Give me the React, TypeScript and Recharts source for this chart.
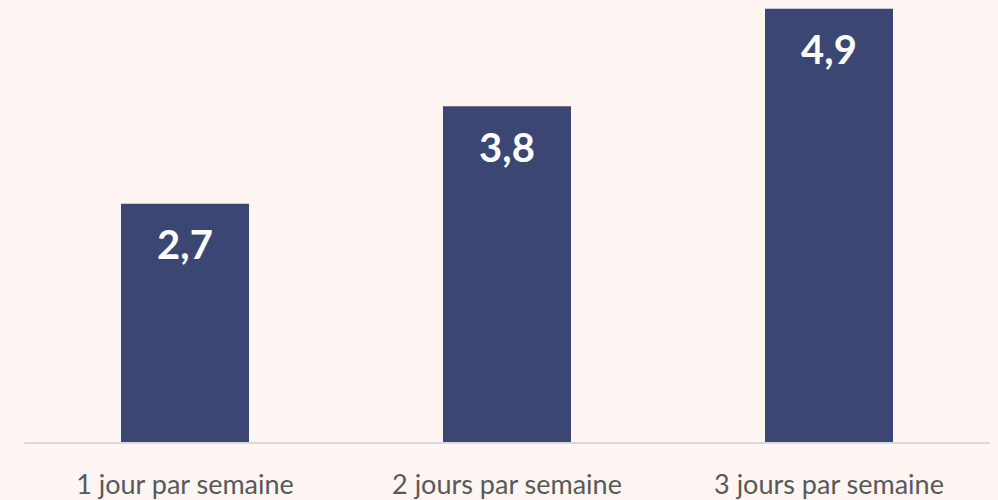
import { Bar, BarChart, LabelList, XAxis, YAxis } from "recharts";

const categories = ["1 jour par semaine", "2 jours par semaine", "3 jours par semaine"];
const values = [2.7, 3.8, 4.9];

const data = categories.map((name, i) => ({ name, value: values[i] }));

const renderTick = (props: any) => {
  const { x, y, payload } = props;
  return (
    <text
      x={x}
      y={y + 36}
      textAnchor="middle"
      dominantBaseline="middle"
      fill="#595959"
      fontSize={27}
      fontFamily="Lato, sans-serif"
    >
      {payload.value}
    </text>
  );
};

const renderLabel = (props: any) => {
  const { x, y, width, value } = props;
  return (
    <text
      x={x + width / 2}
      y={y + 45}
      textAnchor="middle"
      dominantBaseline="middle"
      fill="#ffffff"
      fontSize={40}
      fontWeight="bold"
      fontFamily="Lato, sans-serif"
    >
      {String(value).replace(".", ",")}
    </text>
  );
};

export default function App() {
  return (
    <div
      style={{
        position: "fixed",
        top: 0,
        left: 0,
        width: 998,
        height: 500,
        background: "#FFF5F3",
      }}
    >
      <BarChart
        width={998}
        height={500}
        data={data}
        margin={{ top: 0, right: 8, bottom: 27, left: 24 }}
      >
        <YAxis hide domain={[0, 5]} />
        <XAxis
          dataKey="name"
          height={30}
          tickLine={false}
          axisLine={{ stroke: "#D9D9D9", strokeWidth: 2 }}
          tick={renderTick}
          interval={0}
        />
        <Bar dataKey="value" fill="#3B4672" barSize={128} isAnimationActive={false}>
          <LabelList dataKey="value" content={renderLabel} />
        </Bar>
      </BarChart>
    </div>
  );
}
